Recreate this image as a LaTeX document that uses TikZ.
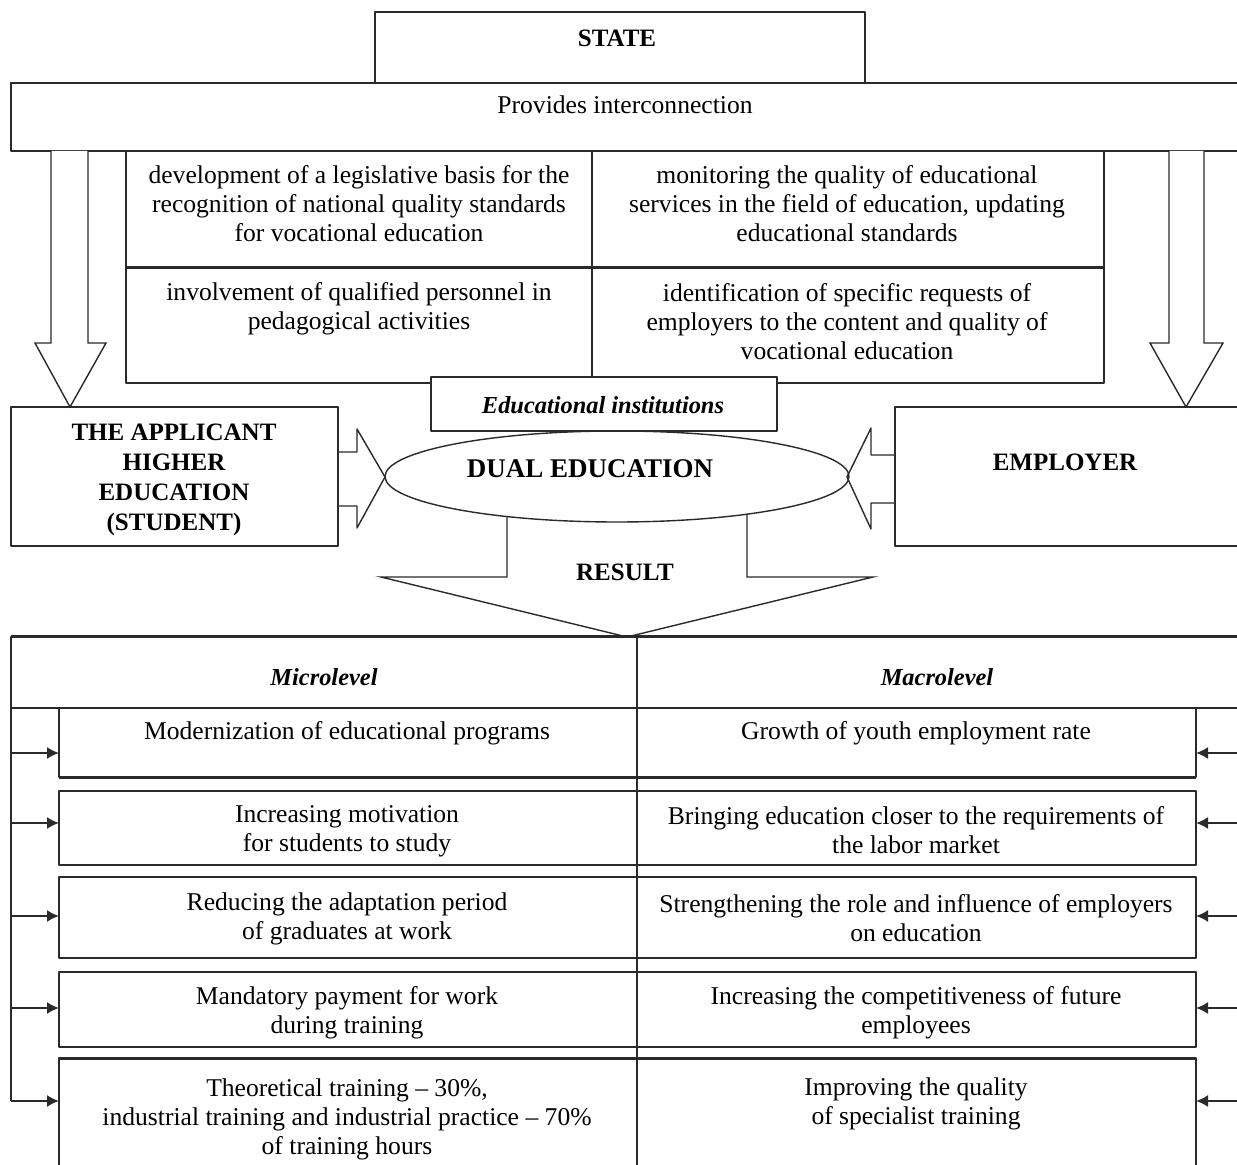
\documentclass[tikz,border=0pt]{standalone}
\usepackage{fontspec}
\setmainfont{Liberation Serif}
\usetikzlibrary{arrows.meta}
\definecolor{ink}{HTML}{2A2A2A}

\tikzset{
  frame/.style={draw=ink, line width=0.7pt},
  heavy/.style={draw=ink, line width=1.5pt},
  hollow/.style={draw=ink, line width=0.7pt, fill=white, line join=miter},
  txt/.style={align=center, inner sep=0pt, font=\fontsize{12.8}{14.5}\selectfont},
  head/.style={align=center, inner sep=0pt, font=\fontsize{12.5}{15}\selectfont\bfseries},
  level/.style={align=center, inner sep=0pt, font=\fontsize{12.2}{14.5}\selectfont\bfseries\itshape},
  feed/.style={draw=ink, line width=0.9pt, -{Latex[length=6pt,width=6pt]}},
}

\begin{document}
\begin{tikzpicture}[x=0.5pt,y=-0.5pt, line join=round]
  \clip (0,0) rectangle (1237,1165);
  \fill[white] (0,0) rectangle (1237,1165);

  % ---- state and its links -----------------------------------------------
  \draw[frame] (375,83) -- (375,12) -- (865,12) -- (865,83);
  \node[head] (state) at (617,38) {STATE};
  \draw[frame] (11,83) rectangle (1250,151);
  \node[txt] (links) at (625,105) {Provides interconnection};

  % the four tasks
  \draw[frame] (126,151) rectangle (1104,383);
  \draw[frame] (592,151) -- (592,383);
  \draw[heavy] (126,268) -- (1104,268);
  \node[txt] (law) at (359,204) {development of a legislative basis for the\\recognition of national quality standards\\for vocational education};
  \node[txt] (watch) at (847,204) {monitoring the quality of educational\\services in the field of education, updating\\educational standards};
  \node[txt] (staff) at (359,309) {involvement of qualified personnel in\\pedagogical activities};
  \node[txt] (needs) at (847,322) {identification of specific requests of\\employers to the content and quality of\\vocational education};

  % hollow arrows down to the two parties
  \draw[hollow] (51,151) -- (51,343) -- (35,343) -- (70,407) -- (106,343) -- (88,343) -- (88,151);
  \draw[hollow] (1169,151) -- (1169,343) -- (1150,343) -- (1186,407) -- (1223,343) -- (1204,343) -- (1204,151);

  % ---- the parties ---------------------------------------------------------
  \draw[frame] (11,407) rectangle (338,546);
  \node[head] (student) at (174,480) {THE APPLICANT\\HIGHER\\EDUCATION\\(STUDENT)};
  \draw[frame] (895,407) rectangle (1250,546);
  \node[head] (employer) at (1065,462) {EMPLOYER};

  % result arrow, behind the ellipse
  \draw[hollow] (507,476) -- (507,577) -- (381,577) -- (627,637) -- (873,577) -- (747,577) -- (747,476);
  \node[head] (result) at (625,572) {RESULT};

  \draw[frame, fill=white] (617,476.5) ellipse [x radius=232, y radius=45.5];
  \node[head, font=\fontsize{13.5}{15}\selectfont\bfseries] (dual) at (590,469) {DUAL EDUCATION};

  \draw[frame, fill=white] (431,377) rectangle (777,431);
  \node[level] (inst) at (603,405) {Educational institutions};

  % side arrows into the ellipse
  \draw[draw=ink, line width=0.7pt] (338,452) -- (357,452) -- (357,429) -- (385,477) -- (357,528) -- (357,506) -- (338,506);
  \draw[draw=ink, line width=0.7pt] (895,455) -- (871,455) -- (871,428) -- (847,477) -- (871,529) -- (871,503) -- (895,503);

  % ---- the two levels of result -------------------------------------------
  \draw[frame] (11,637) rectangle (1250,708);
  \draw[heavy] (11,637) -- (1250,637);
  \node[level] (micro) at (324,677) {Microlevel};
  \node[level] (macro) at (937,677) {Macrolevel};

  \foreach \i/\t/\b/\ya in {1/708/777/753, 2/791/865/823, 3/877/958/916, 4/972/1047/1008, 5/1058/1190/1101} {
    \draw[frame] (59,\t) rectangle (1196,\b);
    \coordinate (l\i) at (11,\ya);
    \coordinate (r\i) at (1237,\ya);
    \coordinate (lin\i) at (59,\ya);
    \coordinate (rin\i) at (1196,\ya);
    \draw[feed] (l\i) -- (lin\i);
    \draw[feed] (r\i) -- (rin\i);
  }
  \draw[heavy] (59,777) -- (1196,777);
  \draw[heavy] (59,1058) -- (1196,1058);
  \draw[frame] (637,637) -- (637,1170);
  \draw[frame] (l1 |- 0,708) -- (l5);

  \node[txt] (m1) at (347,733) {Modernization of educational programs};
  \node[txt] (m2) at (347,831) {Increasing motivation\\for students to study};
  \node[txt] (m3) at (347,919) {Reducing the adaptation period\\of graduates at work};
  \node[txt] (m4) at (347,1013) {Mandatory payment for work\\during training};
  \node[txt] (m5) at (347,1119) {Theoretical training -- 30\%,\\industrial training and industrial practice -- 70\%\\of training hours};

  \node[txt] (g1) at (916,733) {Growth of youth employment rate};
  \node[txt] (g2) at (916,830) {Bringing education closer to the requirements of\\the labor market};
  \node[txt] (g3) at (916,918) {Strengthening the role and influence of employers\\on education};
  \node[txt] (g4) at (916,1013) {Increasing the competitiveness of future\\employees};
  \node[txt] (g5) at (916,1104) {Improving the quality\\of specialist training};

\end{tikzpicture}
\end{document}
